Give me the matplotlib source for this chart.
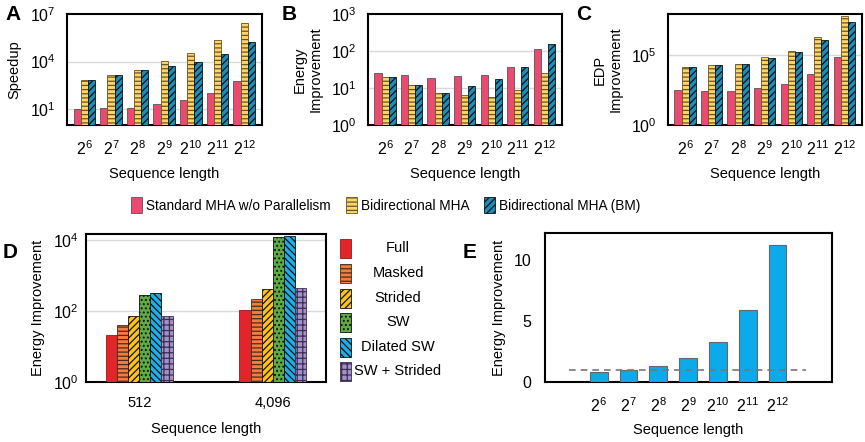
import matplotlib
matplotlib.use("Agg")
import matplotlib.pyplot as plt
import numpy as np
from matplotlib.patches import Rectangle

plt.rcParams['font.family'] = ['Liberation Sans', 'DejaVu Sans']
plt.rcParams['mathtext.fontset'] = 'custom'
plt.rcParams['mathtext.rm'] = 'Liberation Sans'
plt.rcParams['mathtext.it'] = 'Liberation Sans:italic'
plt.rcParams['mathtext.bf'] = 'Liberation Sans:bold'
plt.rcParams['hatch.linewidth'] = 0.9

# ---------------- data ----------------
seq_exp = [6, 7, 8, 9, 10, 11, 12]
series_names = ['Standard MHA w/o Parallelism', 'Bidirectional MHA', 'Bidirectional MHA (BM)']

speedup_std = [10.5, 11, 12, 20, 37, 107, 630]
speedup_bi = [660, 1450, 3100, 10500, 36000, 220000, 2.6e6]
speedup_bm = [660, 1450, 3100, 5400, 9100, 29000, 1.6e5]

energy_std = [26, 23, 19, 21, 22, 37, 111]
energy_bi = [20, 12.4, 7.4, 6.5, 5.8, 9.1, 26]
energy_bm = [20, 12.4, 7.4, 11.2, 17, 38, 155]

edp_std = [290, 260, 250, 430, 780, 4000, 65000]
edp_bi = [12600, 17500, 23000, 68000, 2.0e5, 1.9e6, 5.9e7]
edp_bm = [12600, 17500, 23000, 55000, 1.5e5, 1.05e6, 2.1e7]

d_seq_labels = ['512', '4,096']
attn_types = ['Full', 'Masked', 'Strided', 'SW', 'Dilated SW', 'SW + Strided']
d_512 = [21, 40, 71, 295, 320, 72]
d_4096 = [111, 228, 435, 12100, 13500, 445]

e_energy = [0.82, 0.99, 1.29, 1.98, 3.30, 5.91, 11.18]
e_baseline = 1.0

# ---------------- styles ----------------
W, H = 865, 442
fig = plt.figure(figsize=(W / 100, H / 100), dpi=100)

def px_axes(l, t, r, b):
    return fig.add_axes([l / W, 1 - b / H, (r - l) / W, (b - t) / H])

abc_styles = [
    dict(color='#EA4A70', edgecolor='#555555', hatch=None),
    dict(color='#FFD56A', edgecolor='#6B5320', hatch='----'),
    dict(color='#1A8DBA', edgecolor='#111111', hatch='/////'),
]

xt_labels = [r'$\mathregular{2^{%d}}$' % e for e in seq_exp]
FS = 10.5
TFS = 11.5

def style_axes(ax):
    for s in ax.spines.values():
        s.set_linewidth(1.5)
        s.set_color('black')
    ax.tick_params(axis='both', length=0, labelsize=TFS)
    ax.tick_params(axis='x', pad=10)
    ax.tick_params(axis='y', pad=8)
    ax.minorticks_off()

def log_ticks(ax, exps):
    ax.set_yticks([10.0 ** e for e in exps])
    ax.set_yticklabels([r'$\mathregular{10^{%d}}$' % e for e in exps])

def abc_panel(ax, vals, ylim, tick_exps, grid_exps, ylabel):
    x = np.arange(len(seq_exp))
    w = 0.27
    for i, (v, st) in enumerate(zip(vals, abc_styles)):
        ax.bar(x + (i - 1) * w, v, w, color=st['color'], edgecolor=st['edgecolor'],
               hatch=st['hatch'], linewidth=0.6, zorder=3, label=series_names[i])
    ax.set_yscale('log')
    ax.set_ylim(*ylim)
    ax.set_xlim(-0.65, 6.67)
    for g in grid_exps:
        ax.axhline(10.0 ** g, color='#d9d9d9', lw=1.0, zorder=1)
    log_ticks(ax, tick_exps)
    ax.set_xticks(x)
    ax.set_xticklabels(xt_labels)
    style_axes(ax)
    ax.set_xlabel('Sequence length', fontsize=FS, labelpad=7)
    ax.set_ylabel(ylabel, fontsize=FS, labelpad=6)

axA = px_axes(67, 14, 262, 125)
abc_panel(axA, [speedup_std, speedup_bi, speedup_bm], (1, 1e7), [1, 4, 7], [1, 4], 'Speedup')
axB = px_axes(368, 14, 562, 125)
abc_panel(axB, [energy_std, energy_bi, energy_bm], (1, 1e3), [0, 1, 2, 3], [1, 2], 'Energy\nImprovement')
axC = px_axes(668, 14, 862, 125)
abc_panel(axC, [edp_std, edp_bi, edp_bm], (1, 10 ** 7.9), [0, 5], [5], 'EDP\nImprovement')

# top legend
LFS = 9.8
handles, labels = axA.get_legend_handles_labels()
fig.legend(handles, labels, loc='center', bbox_to_anchor=(386 / W, 1 - 205 / H), ncol=3,
           frameon=False, fontsize=LFS, handlelength=0.8, handleheight=1.4,
           handletextpad=0.3, columnspacing=1.1, borderpad=0)

# ---------------- panel D ----------------
d_styles = [
    dict(color='#E3252B', edgecolor='#8a1a1a', hatch=None),
    dict(color='#F57C3C', edgecolor='#4a2a1a', hatch='----'),
    dict(color='#FFC316', edgecolor='#111111', hatch='/////'),
    dict(color='#5EAA45', edgecolor='#111111', hatch='....'),
    dict(color='#1CB0EA', edgecolor='#111111', hatch='\\\\\\\\\\'),
    dict(color='#A590CB', edgecolor='#3a3050', hatch='+++'),
]
axD = px_axes(86, 234, 326, 382)
xd = np.arange(len(d_seq_labels))
wd = 0.083
for i, st in enumerate(d_styles):
    vals = [d_512[i], d_4096[i]]
    axD.bar(xd + (i - 2.5) * wd, vals, wd, color=st['color'], edgecolor=st['edgecolor'],
            hatch=st['hatch'], linewidth=0.6, zorder=3)
axD.set_yscale('log')
axD.set_ylim(1, 10 ** 4.18)
axD.set_xlim(-0.4, 1.4)
for g in [2, 4]:
    axD.axhline(10.0 ** g, color='#d9d9d9', lw=1.0, zorder=1)
log_ticks(axD, [0, 2, 4])
axD.set_xticks(xd)
axD.set_xticklabels(d_seq_labels)
style_axes(axD)
axD.tick_params(axis='x', labelsize=FS)
axD.tick_params(axis='y', pad=5)
axD.set_xlabel('Sequence length', fontsize=FS, labelpad=9)
axD.set_ylabel('Energy Improvement', fontsize=FS, labelpad=6)

# D legend (manual)
row_y = [248, 273, 298, 322, 347, 371]
for i, st in enumerate(d_styles):
    y = row_y[i]
    fig.patches.append(Rectangle((340 / W, 1 - (y + 9.5) / H), 11 / W, 19 / H,
                                 transform=fig.transFigure, facecolor=st['color'],
                                 edgecolor=st['edgecolor'], hatch=st['hatch'], linewidth=0.6))
    fig.text(398 / W, 1 - y / H, attn_types[i], ha='center', va='center', fontsize=FS)

# ---------------- panel E ----------------
axE = px_axes(545, 233, 832, 382)
xe = np.arange(len(seq_exp))
axE.bar(xe, e_energy, 0.6, color='#0DAAEB', edgecolor='#666666', linewidth=0.8, zorder=3)
axE.plot([-1, 6.95], [e_baseline, e_baseline], ls=(0, (4, 3)), color='#777777', lw=1.2, zorder=4)
axE.set_xlim(-1.8, 7.83)
axE.set_ylim(0, 12.2)
axE.set_yticks([0, 5, 10])
axE.set_xticks(xe)
axE.set_xticklabels(xt_labels)
style_axes(axE)
axE.tick_params(axis='y', pad=10)
axE.set_xlabel('Sequence length', fontsize=FS, labelpad=6)
axE.set_ylabel('Energy Improvement', fontsize=FS, labelpad=5)

# panel letters
for lab, (x, y) in {'A': (13, 15), 'B': (289, 15), 'C': (584, 15), 'D': (10, 252), 'E': (470, 252)}.items():
    fig.text(x / W, 1 - y / H, lab, ha='center', va='center', fontsize=15, fontweight='bold')

fig.savefig('out.png', dpi=100)
